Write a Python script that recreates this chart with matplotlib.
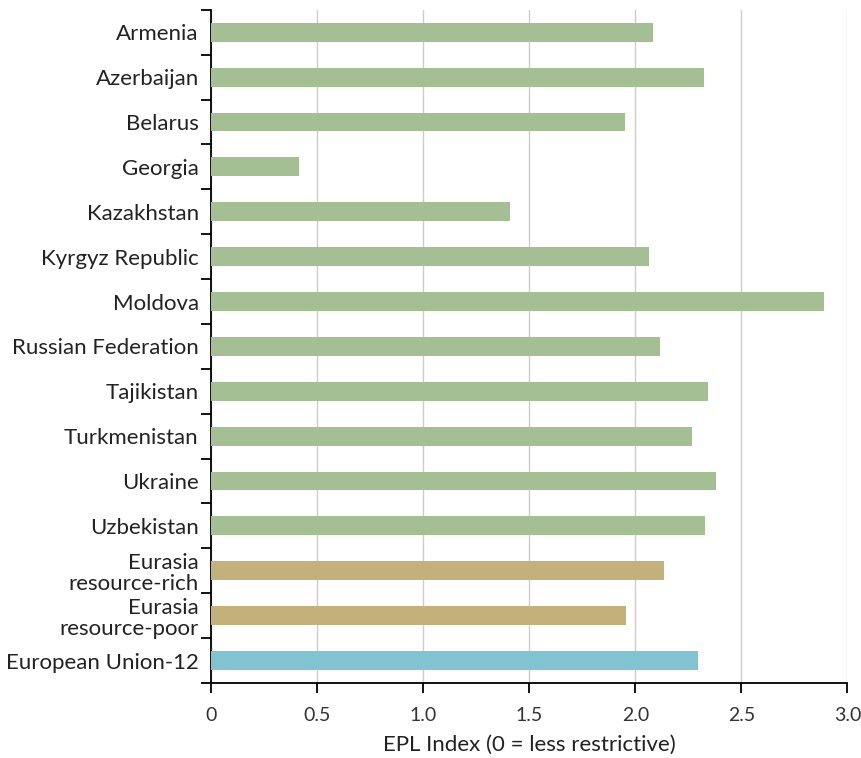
import numpy as np
import matplotlib
matplotlib.use("Agg")
import matplotlib.pyplot as plt

# data
countries = ["Armenia", "Azerbaijan", "Belarus", "Georgia", "Kazakhstan",
             "Kyrgyz Republic", "Moldova", "Russian Federation", "Tajikistan",
             "Turkmenistan", "Ukraine", "Uzbekistan",
             "Eurasia\nresource-rich", "Eurasia\nresource-poor",
             "European Union-12"]
epl = [2.085, 2.325, 1.953, 0.415, 1.41, 2.066, 2.89, 2.118, 2.344,
       2.269, 2.38, 2.33, 2.137, 1.958, 2.297]
groups = ["country"] * 12 + ["aggregate", "aggregate", "eu"]
group_colors = {"country": "#a5bf95", "aggregate": "#c4b07a", "eu": "#82c3d1"}

plt.rcParams["font.family"] = ["Lato", "DejaVu Sans"]

fig = plt.figure(figsize=(8.62, 7.58), dpi=100)
ax = fig.add_axes([0.245, 0.099, 0.738, 0.888])

y = np.arange(len(countries))
ax.barh(y, epl, height=0.42, color=[group_colors[g] for g in groups], zorder=3)

ax.set_xlim(0, 3.0)
ax.set_ylim(len(countries) - 0.5, -0.5)
ax.set_xticks([0, 0.5, 1.0, 1.5, 2.0, 2.5, 3.0])
ax.set_xticklabels(["0", "0.5", "1.0", "1.5", "2.0", "2.5", "3.0"],
                   fontsize=14, color="#333333")
ax.xaxis.grid(True, color="#cccccc", linewidth=1, zorder=0)
ax.set_axisbelow(True)

# category labels at centres, tick marks on the boundaries
ax.set_yticks(y)
ax.set_yticklabels(countries, fontsize=16, color="#222222", linespacing=1.1)
ax.tick_params(axis="y", length=0, pad=9)
ax.set_yticks(np.arange(len(countries) + 1) - 0.5, minor=True)
ax.tick_params(axis="y", which="minor", length=7, width=1.3, color="black")
ax.tick_params(axis="x", length=7, width=1.3, pad=10)

for s in ["top", "right"]:
    ax.spines[s].set_visible(False)
for s in ["left", "bottom"]:
    ax.spines[s].set_linewidth(1.3)

ax.set_xlabel("EPL Index (0 = less restrictive)", fontsize=16, color="#222222",
              labelpad=8)

fig.savefig("out.png", dpi=100)
